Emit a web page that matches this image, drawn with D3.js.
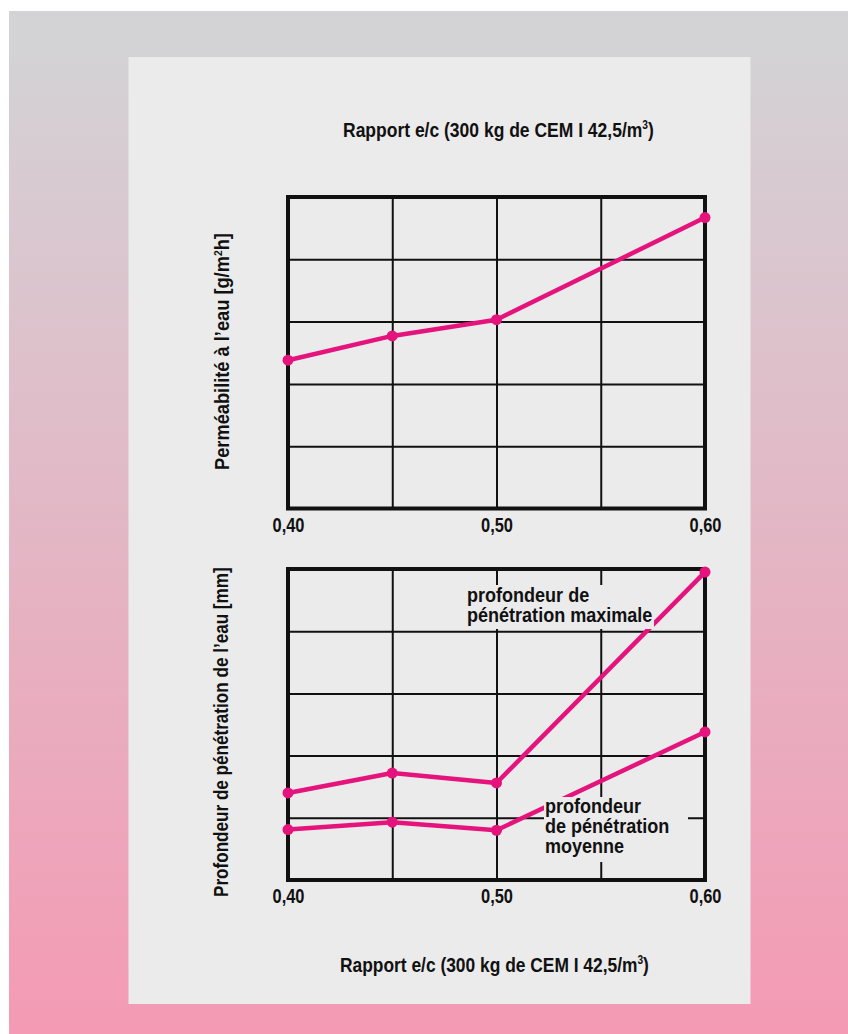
<!DOCTYPE html>
<html>
<head>
<meta charset="utf-8">
<script src="https://cdn.jsdelivr.net/npm/d3@7"></script>
<style>
    body { margin: 0; background: #fff; }
    svg text { font-family: "Liberation Sans", Arial, sans-serif; font-weight: bold; fill: #111; }
</style>
</head>
<body>
<div id="chart"></div>
<script>
// values (grid units, no scale printed on the y axes)
const ratios = [0.40, 0.45, 0.50, 0.60];
const permeability = [2.38, 2.77, 3.03, 4.67];
const penetrationMax = [1.40, 1.72, 1.56, 4.95];
const penetrationMean = [0.81, 0.93, 0.80, 2.38];
const tickRatios = [0.40, 0.50, 0.60];
const gridRatios = [0.45, 0.50, 0.55];
const gridLevels = [1, 2, 3, 4];

const xTitle = "Rapport e/c (300 kg de CEM I 42,5/m";
const topYTitle = "Perméabilité à l’eau [g/m";
const bottomYTitle = "Profondeur de pénétration de l’eau [mm]";
const maxLabel = ["profondeur de", "pénétration maximale"];
const meanLabel = ["profondeur", "de pénétration", "moyenne"];

const W = 848, H = 1034;
const magenta = "#e5147c";
const panelFill = "#ebebeb";

const fr = d3.formatLocale({decimal: ",", thousands: " ", grouping: [3], currency: ["", "€"]});
const fmt = fr.format(".2f");

const svg = d3.select("#chart").append("svg")
    .attr("width", W)
    .attr("height", H);

const grad = svg.append("defs").append("linearGradient")
    .attr("id", "bg")
    .attr("x1", 0).attr("y1", 0).attr("x2", 0).attr("y2", 1);
grad.append("stop").attr("offset", "0%").attr("stop-color", "#d3d3d5");
grad.append("stop").attr("offset", "4%").attr("stop-color", "#d3d2d5");
grad.append("stop").attr("offset", "100%").attr("stop-color", "#f49ab4");

svg.append("rect").attr("x", 9).attr("y", 11).attr("width", W - 9).attr("height", H - 11).attr("fill", "url(#bg)");
svg.append("rect").attr("x", 128.5).attr("y", 57).attr("width", 622).attr("height", 947).attr("fill", panelFill);

const x = d3.scaleLinear().domain([0.40, 0.60]).range([288, 705]);

// squeeze a text horizontally so it looks like the condensed face of the original
function squeeze(t, pre, width) {
    const len = t.node().getComputedTextLength();
    t.attr("transform", pre + " scale(" + (width / len) + ",1)");
}

function drawPanel(top, bottom, series, labels) {
    const y = d3.scaleLinear().domain([0, 5]).range([bottom, top]);
    const g = svg.append("g");

    // grid
    g.append("g")
        .attr("transform", "translate(0," + bottom + ")")
        .call(d3.axisBottom(x).tickValues(gridRatios).tickSize(-(bottom - top)).tickFormat(""))
        .call(a => a.select(".domain").remove())
        .selectAll("line").attr("stroke", "#111").attr("stroke-width", 2);
    g.append("g")
        .attr("transform", "translate(" + x.range()[0] + ",0)")
        .call(d3.axisLeft(y).tickValues(gridLevels).tickSize(-(x.range()[1] - x.range()[0])).tickFormat(""))
        .call(a => a.select(".domain").remove())
        .selectAll("line").attr("stroke", "#111").attr("stroke-width", 2);

    // tick labels
    const ax = g.append("g")
        .attr("transform", "translate(0," + bottom + ")")
        .call(d3.axisBottom(x).tickValues(tickRatios).tickSize(0).tickFormat(fmt));
    ax.select(".domain").remove();
    ax.attr("font-family", null).attr("font-size", null);
    ax.selectAll("text")
        .attr("y", 0).attr("dy", 0)
        .attr("font-size", 20.5)
        .attr("fill", "#111")
        .each(function () { squeeze(d3.select(this), "translate(0,23)", 32); });

    // lines
    const line = d3.line().x((d, i) => x(ratios[i])).y(d => y(d));
    series.forEach(vals => {
        g.append("path")
            .datum(vals)
            .attr("d", line)
            .attr("fill", "none")
            .attr("stroke", magenta)
            .attr("stroke-width", 4.5)
            .attr("stroke-linejoin", "round");
    });

    // label boxes hide the grid and lines beneath
    labels.forEach(lb => {
        g.append("rect")
            .attr("x", lb.box[0]).attr("y", lb.box[1])
            .attr("width", lb.box[2]).attr("height", lb.box[3])
            .attr("fill", panelFill);
        const t = g.append("text")
            .attr("font-size", 20.5)
            .attr("transform", "translate(" + lb.x + "," + lb.y + ") scale(0.88,1)");
        lb.lines.forEach((s, i) => {
            t.append("tspan").attr("x", 0).attr("y", i * 20).text(s);
        });
    });

    // frame
    g.append("rect")
        .attr("x", x.range()[0]).attr("y", top)
        .attr("width", x.range()[1] - x.range()[0]).attr("height", bottom - top)
        .attr("fill", "none").attr("stroke", "#111").attr("stroke-width", 4);

    // markers
    series.forEach(vals => {
        g.selectAll(null)
            .data(vals)
            .join("circle")
            .attr("cx", (d, i) => x(ratios[i]))
            .attr("cy", d => y(d))
            .attr("r", 5.5)
            .attr("fill", magenta);
    });
}

drawPanel(197, 508.5, [permeability], []);
drawPanel(569, 880, [penetrationMax, penetrationMean], [
    {box: [462, 585, 192, 44], x: 467, y: 602, lines: maxLabel},
    {box: [544, 797, 144, 65], x: 545, y: 813, lines: meanLabel}
]);

// x titles
function xTitleText(yPos, left, len) {
    const t = svg.append("text").attr("font-size", 20.5);
    t.append("tspan").text(xTitle);
    t.append("tspan").attr("font-size", 12).attr("dy", -8).text("3");
    t.append("tspan").attr("dy", 8).text(")");
    squeeze(t, "translate(" + left + "," + yPos + ")", len);
}
xTitleText(137, 343, 311);
xTitleText(972, 340, 309);

// y titles
const yt1 = svg.append("text").attr("font-size", 19.5).attr("text-anchor", "start");
yt1.append("tspan").text(topYTitle);
yt1.append("tspan").attr("font-size", 11).attr("dy", -7).text("2");
yt1.append("tspan").attr("dy", 7).text("h]");
squeeze(yt1, "translate(229,470) rotate(-90)", 237);

const yt2 = svg.append("text").attr("font-size", 19.5).attr("text-anchor", "start")
    .text(bottomYTitle);
squeeze(yt2, "translate(228,897) rotate(-90)", 330);
</script>
</body>
</html>
